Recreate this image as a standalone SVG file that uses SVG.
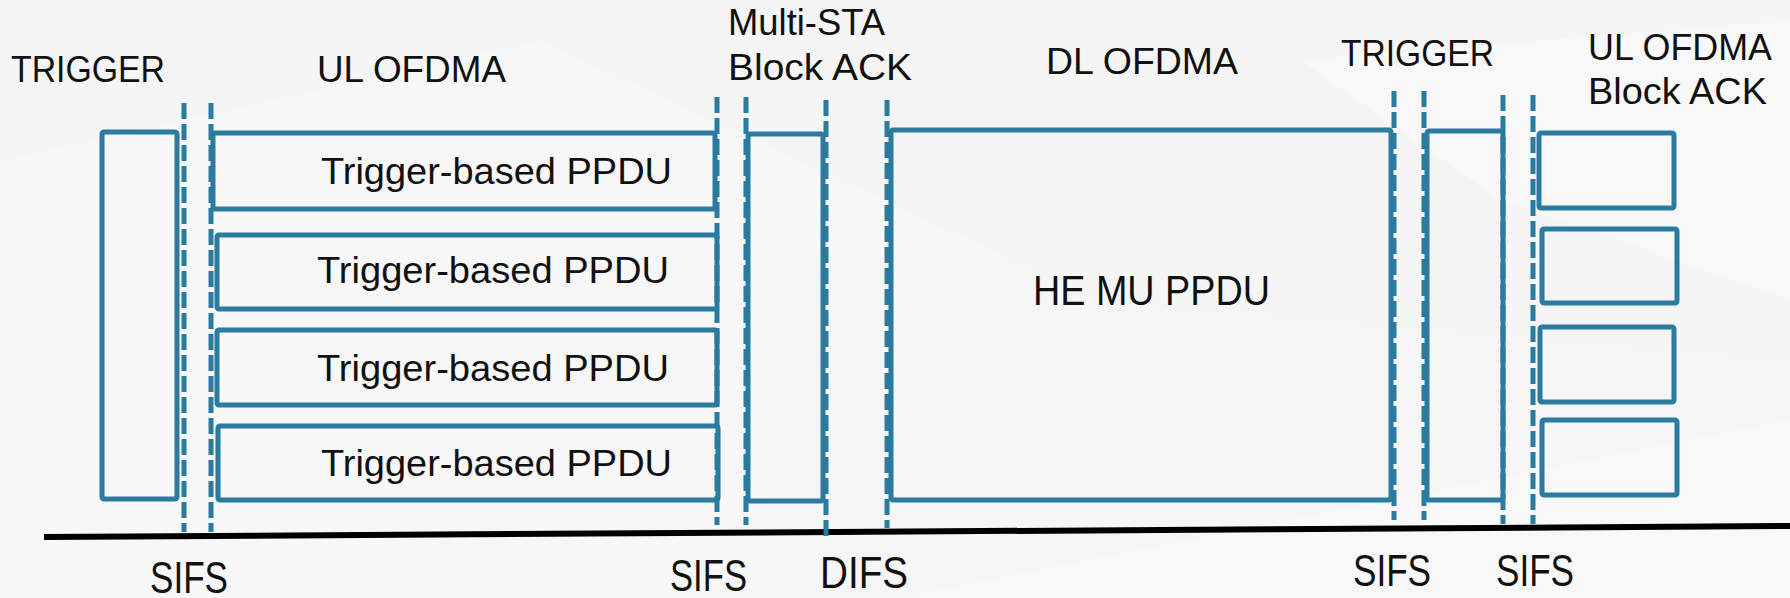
<svg xmlns="http://www.w3.org/2000/svg" width="1790" height="598" viewBox="0 0 1790 598">
  <style>
    .box { fill: none; stroke: #2b7aa0; stroke-width: 5; stroke-linejoin: round; }
    .dash { stroke: #2b7aa0; stroke-width: 5; stroke-dasharray: 16 5; fill: none; }
    .lbl { font-family: "Liberation Sans", Arial, sans-serif; fill: #111; }
    .top { font-size: 37px; }
    .in { font-size: 37px; }
    .bot { font-size: 44px; }
  </style>
  <rect x="0" y="0" width="1790" height="598" fill="#f5f5f5"/>
  <g id="background" opacity="0.55">
    <polygon points="0,160 540,40 1100,300 1790,360 1790,598 0,598" fill="#f8f8f8"/>
    <polygon points="900,598 1790,420 1790,598" fill="#fbfbfb"/>
    <polygon points="1300,60 1790,20 1790,300 1500,200" fill="#fbfbfb"/>
  </g>

  <g id="timeline">
    <line x1="44" y1="537" x2="1790" y2="526" stroke="#000" stroke-width="6"/>
  </g>

  <g id="trigger1">
    <rect class="box" x="102" y="132" width="75" height="367" rx="2"/>
    <text class="lbl top" x="11" y="82" textLength="154" lengthAdjust="spacingAndGlyphs">TRIGGER</text>
  </g>

  <g id="ul-ofdma">
    <text class="lbl top" x="317" y="82" textLength="189" lengthAdjust="spacingAndGlyphs">UL OFDMA</text>
    <g id="ppdu1">
      <rect class="box" x="213" y="133" width="502" height="76" rx="2"/>
      <text class="lbl in" x="321" y="184" textLength="351" lengthAdjust="spacingAndGlyphs">Trigger-based PPDU</text>
    </g>
    <g id="ppdu2">
      <rect class="box" x="217" y="235" width="500" height="74" rx="2"/>
      <text class="lbl in" x="317" y="283" textLength="352" lengthAdjust="spacingAndGlyphs">Trigger-based PPDU</text>
    </g>
    <g id="ppdu3">
      <rect class="box" x="217" y="330" width="500" height="75" rx="2"/>
      <text class="lbl in" x="317" y="381" textLength="352" lengthAdjust="spacingAndGlyphs">Trigger-based PPDU</text>
    </g>
    <g id="ppdu4">
      <rect class="box" x="218" y="426" width="500" height="74" rx="2"/>
      <text class="lbl in" x="321" y="476" textLength="351" lengthAdjust="spacingAndGlyphs">Trigger-based PPDU</text>
    </g>
  </g>

  <g id="multi-sta-back">
    <rect class="box" x="748" y="134" width="75" height="367" rx="2"/>
    <text class="lbl top" x="728" y="35" textLength="157" lengthAdjust="spacingAndGlyphs">Multi-STA</text>
    <text class="lbl top" x="728" y="80" textLength="184" lengthAdjust="spacingAndGlyphs">Block ACK</text>
  </g>

  <g id="he-mu-ppdu">
    <rect class="box" x="891" y="130" width="500" height="370" rx="2"/>
    <text class="lbl top" x="1046" y="74" textLength="192" lengthAdjust="spacingAndGlyphs">DL OFDMA</text>
    <text class="lbl" font-size="42" x="1033" y="305" textLength="237" lengthAdjust="spacingAndGlyphs">HE MU PPDU</text>
  </g>

  <g id="trigger2">
    <rect class="box" x="1427" y="131" width="76" height="369" rx="2"/>
    <text class="lbl top" x="1341" y="66" textLength="153" lengthAdjust="spacingAndGlyphs">TRIGGER</text>
  </g>

  <g id="ul-ofdma-back">
    <text class="lbl top" x="1588" y="60" textLength="184" lengthAdjust="spacingAndGlyphs">UL OFDMA</text>
    <text class="lbl top" x="1588" y="104" textLength="179" lengthAdjust="spacingAndGlyphs">Block ACK</text>
    <rect class="box" x="1539" y="133" width="135" height="75" rx="2"/>
    <rect class="box" x="1542" y="229" width="135" height="74" rx="2"/>
    <rect class="box" x="1540" y="327" width="134" height="75" rx="2"/>
    <rect class="box" x="1542" y="420" width="135" height="75" rx="2"/>
  </g>

  <g id="connectors">
    <line class="dash" x1="184" y1="103" x2="184" y2="532"/>
    <line class="dash" x1="211" y1="103" x2="211" y2="532"/>
    <line class="dash" x1="717" y1="97" x2="717" y2="525"/>
    <line class="dash" x1="746" y1="97" x2="746" y2="525"/>
    <line class="dash" x1="826" y1="100" x2="826" y2="538"/>
    <line class="dash" x1="887" y1="100" x2="887" y2="528"/>
    <line class="dash" x1="1394" y1="91" x2="1394" y2="520"/>
    <line class="dash" x1="1424" y1="91" x2="1424" y2="520"/>
    <line class="dash" x1="1503" y1="95" x2="1503" y2="524"/>
    <line class="dash" x1="1533" y1="95" x2="1533" y2="524"/>
  </g>

  <g id="interval-labels">
    <text class="lbl bot" x="150" y="593" textLength="78" lengthAdjust="spacingAndGlyphs">SIFS</text>
    <text class="lbl bot" x="670" y="591" textLength="77" lengthAdjust="spacingAndGlyphs">SIFS</text>
    <text class="lbl bot" x="820" y="588" textLength="88" lengthAdjust="spacingAndGlyphs">DIFS</text>
    <text class="lbl bot" x="1353" y="586" textLength="78" lengthAdjust="spacingAndGlyphs">SIFS</text>
    <text class="lbl bot" x="1496" y="586" textLength="78" lengthAdjust="spacingAndGlyphs">SIFS</text>
  </g>
</svg>
